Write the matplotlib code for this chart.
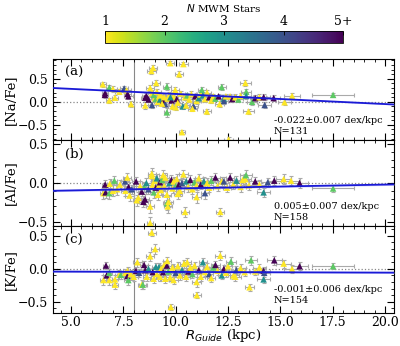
import matplotlib
matplotlib.use("Agg")
import matplotlib.pyplot as plt
import numpy as np
from matplotlib.colors import Normalize
from matplotlib.cm import ScalarMappable

plt.rcParams["font.family"] = ["DejaVu Serif"]
plt.rcParams["mathtext.fontset"] = "dejavusans"

# ---- [Na/Fe] ----
na_r = [6.52, 6.63, 6.62, 6.83, 6.83, 7.00, 7.10, 7.31, 7.54, 7.65, 7.70, 7.74, 7.87, 8.54, 8.55, 8.60,
        8.70, 8.78, 8.84, 8.92, 8.87, 8.87, 9.00, 9.05, 9.07, 9.15, 9.20, 9.25, 9.30, 9.40, 9.45, 9.50,
        9.58, 9.58, 9.62, 9.70, 9.74, 9.80, 9.90, 9.98, 10.05, 10.10, 10.17, 10.30, 10.34, 10.37, 10.45,
        10.50, 10.55, 10.65, 10.75, 10.85, 10.93, 11.00, 11.10, 11.20, 11.25, 11.30, 11.40, 11.49, 11.60,
        11.70, 11.80, 11.90, 12.05, 12.20, 12.30, 12.30, 12.40, 12.53, 12.60, 12.70, 12.85, 13.00, 13.10,
        13.33, 13.37, 13.37, 13.48, 13.65, 13.80, 14.00, 14.20, 14.25, 14.68, 15.20, 15.56, 17.52, 8.95,
        9.10, 9.35, 9.85, 10.25, 10.80, 11.50, 12.10, 10.00, 9.75]
na_val = [0.38, 0.19, 0.15, 0.31, 0.03, 0.28, 0.09, 0.22, 0.29, 0.25, 0.17, 0.12, -0.05, 0.09, -0.08, 0.13,
          0.05, 0.30, 0.67, 0.74, 0.19, -0.07, 0.08, 0.06, 0.41, 0.00, 0.12, 0.05, 0.14, 0.02, 0.10, -0.05,
          0.33, -0.23, 0.07, 0.15, 0.84, 0.03, 0.11, 0.26, 0.06, -0.02, 0.60, -0.66, -0.10, 0.82, 0.10,
          -0.08, 0.14, 0.05, 0.17, -0.09, 0.12, 0.02, 0.08, 0.16, 0.26, 0.14, 0.06, -0.21, 0.10,
          0.03, 0.12, 0.07, 0.12, 0.32, 0.07, 0.02, 0.12, -0.82, 0.12, 0.06, 0.10, 0.05, 0.13,
          0.41, 0.22, 0.13, -0.21, 0.00, 0.08, 0.10, 0.10, -0.07, 0.08, -0.01, 0.13, 0.15, 0.15,
          0.22, -0.04, -0.10, 0.18, -0.15, 0.20, -0.05, -0.12, 0.10]
na_n = [1, 5, 5, 2, 1, 1, 1, 1, 4, 1, 5, 5, 1, 5, 1, 5,
        5, 1, 1, 1, 1, 4, 1, 2, 1, 1, 1, 3, 1, 5, 1, 4,
        2, 2, 1, 1, 1, 5, 1, 1, 5, 1, 1, 1, 3, 1, 1,
        1, 2, 1, 1, 4, 5, 1, 3, 1, 2, 3, 1, 1, 5,
        1, 1, 2, 5, 2, 3, 4, 1, 1, 1, 5, 1, 2, 1,
        1, 2, 3, 1, 2, 5, 1, 5, 4, 5, 1, 1, 2, 2,
        1, 1, 1, 1, 1, 1, 1, 1, 3]
na_xerr = [0.15, 0.15, 0.15, 0.15, 0.15, 0.2, 0.15, 0.2, 0.2, 0.2, 0.15, 0.2, 0.15, 0.2, 0.2, 0.2,
           0.2, 0.2, 0.2, 0.2, 0.2, 0.2, 0.2, 0.2, 0.2, 0.2, 0.2, 0.2, 0.2, 0.2, 0.2, 0.2,
           0.2, 0.15, 0.2, 0.2, 0.2, 0.2, 0.2, 0.2, 0.2, 0.2, 0.2, 0.15, 0.2, 0.2, 0.2,
           0.2, 0.2, 0.2, 0.2, 0.2, 0.2, 0.2, 0.2, 0.2, 0.2, 0.2, 0.2, 0.2, 0.2,
           0.2, 0.2, 0.2, 0.2, 0.2, 0.2, 0.2, 0.2, 0.2, 0.2, 0.2, 0.2, 0.2, 0.2,
           0.25, 0.25, 0.25, 0.25, 0.25, 0.25, 0.3, 0.3, 0.3, 0.3, 0.3, 0.4, 1.0, 0.2,
           0.2, 0.2, 0.2, 0.2, 0.2, 0.2, 0.2, 0.2, 0.2]
na_yerr = [0.05, 0.06, 0.06, 0.06, 0.06, 0.06, 0.06, 0.05, 0.06, 0.06, 0.05, 0.06, 0.06, 0.06, 0.07, 0.06,
           0.06, 0.07, 0.06, 0.06, 0.07, 0.06, 0.06, 0.07, 0.07, 0.06, 0.07, 0.06, 0.06, 0.06, 0.06, 0.07,
           0.08, 0.10, 0.06, 0.06, 0.05, 0.06, 0.06, 0.07, 0.06, 0.06, 0.06, 0.05, 0.06, 0.05, 0.06,
           0.06, 0.06, 0.06, 0.06, 0.06, 0.06, 0.06, 0.06, 0.06, 0.07, 0.06, 0.06, 0.06, 0.06,
           0.06, 0.06, 0.06, 0.06, 0.07, 0.06, 0.06, 0.06, 0.05, 0.06, 0.06, 0.06, 0.06, 0.06,
           0.07, 0.06, 0.06, 0.05, 0.06, 0.06, 0.06, 0.06, 0.06, 0.06, 0.06, 0.06, 0.05, 0.06,
           0.06, 0.06, 0.06, 0.06, 0.06, 0.06, 0.06, 0.06, 0.06]

# ---- [Al/Fe] ----
al_r = [6.55, 6.63, 6.65, 6.83, 6.85, 7.07, 7.00, 7.20, 7.34, 7.58, 7.69, 7.75, 7.80, 7.60, 8.11, 8.14,
        8.22, 8.38, 8.46, 8.50, 8.54, 8.60, 8.70, 8.78, 8.78, 8.86, 8.86, 8.90, 8.95, 9.00, 9.05, 9.10,
        9.15, 9.20, 9.25, 9.30, 9.35, 9.45, 9.50, 9.58, 9.58, 9.62, 9.66, 9.70, 9.80, 9.85, 9.90,
        10.00, 10.05, 10.15, 10.20, 10.30, 10.37, 10.45, 10.50, 10.60, 10.70, 10.80, 10.90, 11.00,
        11.10, 11.20, 11.35, 11.40, 11.50, 11.60, 11.70, 11.90, 12.00, 12.13, 12.20, 12.30, 12.45,
        12.60, 12.75, 12.90, 13.10, 13.20, 13.33, 13.36, 13.50, 13.80, 14.00, 14.20, 14.40, 14.71,
        15.16, 15.51, 15.92, 17.52, 7.90, 8.30, 9.40, 10.10, 11.00]
al_val = [-0.13, -0.02, -0.12, -0.13, -0.01, 0.03, -0.10, -0.08, -0.02, 0.02, 0.07, -0.05, -0.16, -0.10, 0.02, -0.22,
          -0.19, -0.11, -0.24, -0.05, -0.21, 0.00, -0.08, -0.30, -0.51, 0.09, 0.12, -0.02, -0.12, 0.03, -0.06, 0.06,
          -0.15, -0.03, 0.01, -0.09, 0.04, -0.04, 0.07, -0.15, -0.26, -0.30, -0.24, 0.00, 0.04, -0.07, 0.02,
          -0.04, 0.05, -0.02, -0.10, 0.00, 0.11, -0.37, 0.02, -0.05, 0.04, -0.08, 0.01, -0.03,
          0.06, -0.02, 0.02, -0.13, 0.00, -0.06, 0.03, 0.07, -0.04, -0.37, 0.02, 0.02, -0.06,
          0.07, -0.02, 0.03, -0.05, 0.04, 0.05, 0.10, -0.03, 0.02, -0.02, -0.12, 0.01, 0.03,
          0.05, 0.03, 0.00, -0.07, -0.08, -0.04, 0.10, -0.14, -0.18]
al_n = [1, 5, 5, 2, 1, 2, 1, 1, 1, 4, 1, 5, 1, 1, 5, 1,
        1, 5, 5, 2, 5, 3, 4, 1, 1, 1, 1, 1, 2, 1, 5, 3,
        1, 1, 5, 1, 2, 1, 1, 1, 2, 1, 1, 3, 5, 1, 1,
        2, 1, 5, 1, 4, 1, 1, 3, 1, 5, 1, 2, 1,
        1, 5, 3, 4, 1, 1, 2, 5, 1, 1, 1, 4, 1,
        5, 1, 3, 1, 1, 1, 2, 1, 5, 1, 3, 4, 5,
        1, 1, 5, 2, 4, 1, 1, 1, 1]
al_xerr = [0.15, 0.15, 0.15, 0.15, 0.15, 0.15, 0.15, 0.2, 0.2, 0.2, 0.2, 0.2, 0.2, 0.2, 0.2, 0.2,
           0.2, 0.2, 0.2, 0.2, 0.2, 0.2, 0.2, 0.2, 0.15, 0.2, 0.2, 0.2, 0.2, 0.2, 0.2, 0.2,
           0.2, 0.2, 0.2, 0.2, 0.2, 0.2, 0.2, 0.2, 0.2, 0.2, 0.2, 0.2, 0.2, 0.2, 0.2,
           0.2, 0.2, 0.2, 0.2, 0.2, 0.2, 0.2, 0.2, 0.2, 0.2, 0.2, 0.2, 0.2,
           0.2, 0.2, 0.2, 0.2, 0.2, 0.2, 0.2, 0.2, 0.2, 0.2, 0.2, 0.2, 0.2,
           0.2, 0.2, 0.2, 0.25, 0.25, 0.25, 0.3, 0.25, 0.3, 0.3, 0.3, 0.3, 0.3,
           0.35, 0.4, 0.4, 1.0, 0.2, 0.2, 0.2, 0.2, 0.2]
al_yerr = [0.07, 0.06, 0.07, 0.07, 0.06, 0.06, 0.07, 0.07, 0.06, 0.06, 0.06, 0.06, 0.07, 0.06, 0.06, 0.07,
           0.07, 0.06, 0.07, 0.06, 0.07, 0.06, 0.06, 0.08, 0.07, 0.06, 0.07, 0.06, 0.07, 0.06, 0.06, 0.06,
           0.07, 0.06, 0.06, 0.06, 0.06, 0.06, 0.06, 0.07, 0.08, 0.08, 0.07, 0.06, 0.06, 0.06, 0.06,
           0.06, 0.06, 0.06, 0.07, 0.06, 0.06, 0.06, 0.06, 0.06, 0.06, 0.06, 0.06, 0.06,
           0.06, 0.06, 0.06, 0.07, 0.06, 0.06, 0.06, 0.06, 0.06, 0.05, 0.06, 0.06, 0.06,
           0.06, 0.06, 0.06, 0.06, 0.06, 0.06, 0.07, 0.06, 0.06, 0.06, 0.06, 0.06, 0.06,
           0.06, 0.06, 0.06, 0.05, 0.06, 0.06, 0.06, 0.07, 0.07]

# ---- [K/Fe] ----
k_r = [6.55, 6.67, 6.70, 6.83, 6.83, 7.10, 7.10, 7.30, 7.38, 7.60, 7.69, 7.70, 7.74, 7.85, 8.10, 8.17,
       8.25, 8.38, 8.43, 8.49, 8.55, 8.62, 8.70, 8.78, 8.86, 8.90, 8.95, 9.02, 9.05, 9.10, 9.20, 9.25,
       9.30, 9.40, 9.45, 9.50, 9.58, 9.65, 9.74, 9.77, 9.85, 9.90, 10.00, 10.10, 10.20, 10.30, 10.40,
       10.50, 10.60, 10.70, 10.80, 10.90, 11.01, 11.10, 11.20, 11.30, 11.40, 11.50, 11.60, 11.70,
       11.80, 11.90, 12.00, 12.13, 12.20, 12.30, 12.40, 12.50, 12.64, 12.76, 12.85, 12.90, 13.10,
       13.30, 13.53, 13.60, 13.80, 14.00, 14.20, 14.20, 14.23, 14.71, 15.16, 15.56, 15.92, 17.52,
       8.00, 9.60, 10.55, 11.00]
k_val = [-0.17, 0.05, -0.10, -0.06, -0.17, -0.16, -0.24, -0.09, -0.09, -0.06, -0.11, -0.03, -0.17, -0.08, -0.03, 0.10,
         -0.06, -0.24, -0.24, 0.06, -0.02, -0.12, 0.00, 0.19, 0.55, -0.05, -0.15, 0.30, 0.03, -0.08, 0.03, -0.12,
         0.00, -0.05, 0.06, -0.15, 0.05, -0.04, -0.13, -0.58, 0.02, -0.17, -0.06, 0.04, -0.10, -0.02, 0.08,
         -0.12, -0.04, 0.02, -0.08, 0.05, -0.40, -0.02, -0.12, 0.10, -0.05, 0.03, -0.08, -0.14,
         0.02, 0.06, -0.03, 0.20, -0.10, 0.00, -0.06, 0.04, 0.11, -0.10, -0.12, -0.02, 0.01,
         -0.05, -0.28, 0.13, -0.04, 0.02, -0.03, -0.16, -0.06, 0.13, 0.08, 0.00, 0.04, 0.04,
         -0.12, 0.12, 0.10, -0.20]
k_n = [1, 5, 5, 2, 1, 1, 1, 1, 2, 1, 5, 1, 2, 1, 5, 1,
       4, 1, 2, 5, 5, 1, 3, 1, 1, 5, 1, 1, 3, 1, 3, 1,
       1, 5, 1, 1, 5, 2, 1, 1, 1, 1, 4, 1, 1, 3, 1,
       1, 5, 1, 2, 1, 1, 5, 1, 3, 1, 1, 4, 1,
       2, 5, 1, 1, 3, 5, 1, 1, 2, 1, 1, 4, 1,
       1, 1, 2, 1, 1, 5, 3, 4, 5, 1, 1, 5, 2,
       1, 1, 1, 1]
k_xerr = [0.15, 0.15, 0.15, 0.15, 0.15, 0.15, 0.15, 0.2, 0.2, 0.2, 0.2, 0.2, 0.2, 0.2, 0.2, 0.2,
          0.2, 0.2, 0.2, 0.2, 0.2, 0.2, 0.2, 0.2, 0.2, 0.2, 0.2, 0.2, 0.2, 0.2, 0.2, 0.2,
          0.2, 0.2, 0.2, 0.2, 0.2, 0.2, 0.2, 0.15, 0.2, 0.2, 0.2, 0.2, 0.2, 0.2, 0.2,
          0.2, 0.2, 0.2, 0.2, 0.2, 0.2, 0.2, 0.2, 0.2, 0.2, 0.2, 0.2, 0.2,
          0.2, 0.2, 0.2, 0.25, 0.2, 0.2, 0.2, 0.2, 0.25, 0.25, 0.25, 0.25, 0.25,
          0.25, 0.2, 0.3, 0.3, 0.3, 0.3, 0.3, 0.3, 0.35, 0.35, 0.4, 0.4, 1.0,
          0.2, 0.2, 0.2, 0.2]
k_yerr = [0.07, 0.06, 0.07, 0.06, 0.07, 0.06, 0.07, 0.07, 0.06, 0.06, 0.06, 0.06, 0.07, 0.06, 0.06, 0.07,
          0.06, 0.07, 0.06, 0.06, 0.07, 0.06, 0.06, 0.07, 0.05, 0.06, 0.06, 0.07, 0.06, 0.06, 0.06, 0.07,
          0.06, 0.06, 0.06, 0.07, 0.06, 0.06, 0.06, 0.05, 0.06, 0.06, 0.06, 0.06, 0.07, 0.06, 0.06,
          0.06, 0.06, 0.06, 0.06, 0.06, 0.05, 0.06, 0.06, 0.06, 0.06, 0.06, 0.06, 0.06,
          0.06, 0.06, 0.06, 0.07, 0.06, 0.06, 0.06, 0.06, 0.07, 0.06, 0.06, 0.06, 0.06,
          0.06, 0.05, 0.07, 0.06, 0.06, 0.06, 0.06, 0.06, 0.07, 0.06, 0.06, 0.06, 0.05,
          0.06, 0.06, 0.06, 0.07]

# fits: value at R=8 and slope (dex/kpc)
fit_at8 = [0.215, -0.08, -0.045]
fit_slope = [-0.022, 0.005, -0.001]
fit_err = [0.007, 0.007, 0.006]
n_stars = [131, 158, 154]
ylabels = ["[Na/Fe]", "[Al/Fe]", "[K/Fe]"]
plabels = ["(a)", "(b)", "(c)"]
ylims = [(-0.83, 0.93), (-0.55, 0.55), (-0.67, 0.65)]

cmap = plt.get_cmap("viridis_r")
norm = Normalize(vmin=1, vmax=5)

fig = plt.figure(figsize=(4.0, 3.46), dpi=100)
left, width = 0.1325, 0.8525
bottoms = [0.5954, 0.3468, 0.0954]
heights = [0.2341, 0.2486, 0.2514]
axes = []
for i in range(3):
    a = fig.add_axes([left, bottoms[i], width, heights[i]], sharex=axes[0] if axes else None)
    axes.append(a)

data = [(na_r, na_val, na_n, na_xerr, na_yerr),
        (al_r, al_val, al_n, al_xerr, al_yerr),
        (k_r, k_val, k_n, k_xerr, k_yerr)]

xs = np.array([4.0, 20.6])
for i, a in enumerate(axes):
    r, v, n, xe, ye = data[i]
    a.axhline(0, color="#888888", ls=":", lw=0.9, zorder=1)
    a.axvline(8, color="#888888", lw=0.8, zorder=1)
    a.errorbar(r, v, xerr=xe, yerr=ye, fmt="none", ecolor="#aaaaaa", elinewidth=0.8,
               capsize=1.5, capthick=0.8, zorder=2)
    a.scatter(r, v, c=n, cmap=cmap, norm=norm, marker="^", s=22, linewidths=0, zorder=3)
    yfit = fit_at8[i] + fit_slope[i] * (xs - 8)
    a.fill_between(xs, yfit - 0.012, yfit + 0.012, color="#8080ff", alpha=0.35, lw=0, zorder=3.5)
    a.plot(xs, yfit, color="#1a1ad6", lw=1.3, zorder=4)
    a.set_ylim(*ylims[i])
    a.set_ylabel(ylabels[i], fontsize=9.5)
    a.text(0.035, 0.83, plabels[i], transform=a.transAxes, fontsize=9.5, va="center")
    sign = "-" if fit_slope[i] < 0 else ""
    a.text(0.648, 0.045 if i < 2 else 0.09,
           f"{sign}{abs(fit_slope[i]):.3f}\u00b1{fit_err[i]:.3f} dex/kpc\nN={n_stars[i]}",
           transform=a.transAxes, fontsize=7, ha="left", va="bottom", linespacing=1.3)
    a.set_yticks([-0.5, 0.0, 0.5])
    a.yaxis.set_minor_locator(matplotlib.ticker.MultipleLocator(0.1))
    a.xaxis.set_major_locator(matplotlib.ticker.MultipleLocator(2.5))
    a.xaxis.set_minor_locator(matplotlib.ticker.MultipleLocator(0.5))
    a.tick_params(which="both", direction="in", top=True, right=True, labelsize=9)
    a.tick_params(which="major", length=5, width=0.8)
    a.tick_params(which="minor", length=2.5, width=0.6)
    a.tick_params(axis="x", pad=2)
    a.yaxis.set_label_coords(-0.105, 0.5)
    if i < 2:
        a.tick_params(labelbottom=False)

axes[0].set_xlim(4.14, 20.43)
axes[2].set_xlabel("$R_{Guide}$ (kpc)", fontsize=9.5, labelpad=-1)

cax = fig.add_axes([0.2625, 0.8757, 0.595, 0.035])
cb = fig.colorbar(ScalarMappable(norm=norm, cmap=cmap), cax=cax, orientation="horizontal")
cb.set_ticks([1, 2, 3, 4, 5])
cb.set_ticklabels(["1", "2", "3", "4", "5+"])
cax.xaxis.set_ticks_position("top")
cax.xaxis.set_label_position("top")
cax.tick_params(direction="in", length=3, width=0.6, labelsize=9, pad=2)
cb.set_label("$N$ MWM Stars", fontsize=7.5, labelpad=2)
cb.outline.set_linewidth(0.6)

fig.savefig("out.png", dpi=100)
